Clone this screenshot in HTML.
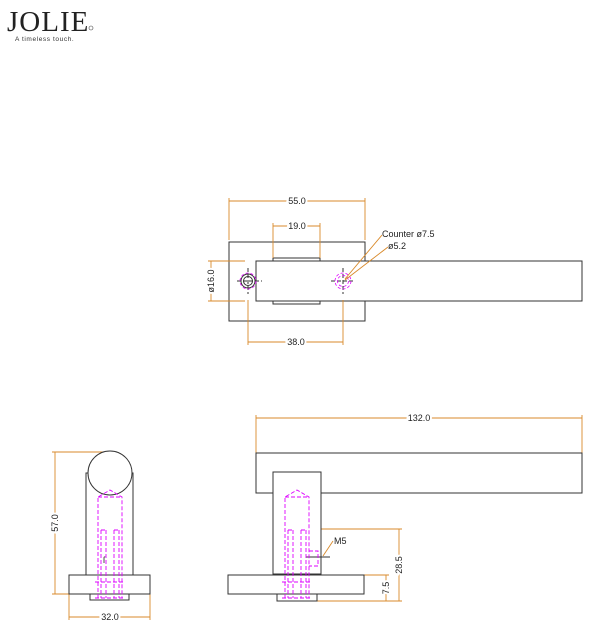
<!DOCTYPE html>
<html><head><meta charset="utf-8"><style>
html,body{margin:0;padding:0;background:#fff;}
svg{display:block;}
text{font-family:"Liberation Sans",sans-serif;}
</style></head><body>
<svg width="600" height="632" viewBox="0 0 600 632" xmlns="http://www.w3.org/2000/svg">
<text x="7" y="31" font-family="Liberation Serif" font-size="29" fill="#222" style="font-family:'Liberation Serif',serif" letter-spacing="1">JOLIE</text>
<circle cx="91" cy="28" r="2" fill="none" stroke="#444" stroke-width="0.6"/>
<text x="15" y="41" font-size="6.5" fill="#333" letter-spacing="0.6">A timeless touch.</text>

<g stroke="#333" stroke-width="1" fill="none">
<rect x="229" y="242" width="136" height="79"/>
<rect x="273" y="258" width="47" height="3"/>
<rect x="273" y="301" width="47" height="3"/>
<rect x="256" y="261" width="326" height="40" fill="#fff"/>
<circle cx="248" cy="281" r="7"/><circle cx="248" cy="281" r="4.5"/>
<line x1="237" y1="281" x2="262" y2="281" stroke-dasharray="4,2"/>
<line x1="248" y1="268" x2="248" y2="294" stroke-dasharray="4,2"/>
<line x1="331" y1="281" x2="355" y2="281" stroke-dasharray="4,2"/>
<line x1="343" y1="268" x2="343" y2="294" stroke-dasharray="4,2"/>
</g>
<g stroke="#d0f" stroke-width="0.8" fill="none" stroke-dasharray="3,2">
<circle cx="248" cy="281" r="8"/>
<circle cx="343" cy="281" r="8"/><circle cx="343" cy="281" r="5.5"/>
</g>
<g stroke="#d98a2b" stroke-width="0.9" fill="none">
<path d="M229 201H365M229 198V240M365 198V240"/>
<path d="M273 226H320M273 223V258M320 223V258"/>
<path d="M248 342H343M248 300V345M343 300V345"/>
<path d="M211 261V301M208 261H245M208 301H245"/>
<path d="M345 279L382 235M345 280L388 247"/>
<path d="M55 452V594M52 452H110M52 594H69"/>
<path d="M69 617H150M69 594V620M150 594V620"/>
<path d="M256 418H582M256 415V453M582 415V453"/>
<path d="M320 529H402M399 529V601M317 601H402"/>
<path d="M364 575H389M386 575V601"/>
<path d="M323 556L333 541"/>
</g>
<g font-size="9" fill="#222">
<text x="297" y="204" text-anchor="middle" fill="#fff" stroke="#fff" stroke-width="4">55.0</text>
<text x="297" y="204" text-anchor="middle">55.0</text>
<text x="297" y="229" text-anchor="middle" fill="#fff" stroke="#fff" stroke-width="4">19.0</text>
<text x="297" y="229" text-anchor="middle">19.0</text>
<text x="296" y="345" text-anchor="middle" fill="#fff" stroke="#fff" stroke-width="4">38.0</text>
<text x="296" y="345" text-anchor="middle">38.0</text>
<text x="382" y="237">Counter ø7.5</text>
<text x="388" y="249">ø5.2</text>
<text transform="translate(214,281) rotate(-90)" text-anchor="middle" fill="#fff" stroke="#fff" stroke-width="4">ø16.0</text>
<text transform="translate(214,281) rotate(-90)" text-anchor="middle">ø16.0</text>
<text x="419" y="421" text-anchor="middle" fill="#fff" stroke="#fff" stroke-width="4">132.0</text>
<text x="419" y="421" text-anchor="middle">132.0</text>
<text transform="translate(58,523) rotate(-90)" text-anchor="middle" fill="#fff" stroke="#fff" stroke-width="4">57.0</text>
<text transform="translate(58,523) rotate(-90)" text-anchor="middle">57.0</text>
<text x="110" y="620" text-anchor="middle" fill="#fff" stroke="#fff" stroke-width="4">32.0</text>
<text x="110" y="620" text-anchor="middle">32.0</text>
<text transform="translate(402,565) rotate(-90)" text-anchor="middle" fill="#fff" stroke="#fff" stroke-width="4">28.5</text>
<text transform="translate(402,565) rotate(-90)" text-anchor="middle">28.5</text>
<text transform="translate(389,588) rotate(-90)" text-anchor="middle" fill="#fff" stroke="#fff" stroke-width="4">7.5</text>
<text transform="translate(389,588) rotate(-90)" text-anchor="middle">7.5</text>
<text x="334" y="544">M5</text>
</g>

<g stroke="#333" stroke-width="1" fill="none">
<rect x="86" y="473" width="47" height="102"/>
<circle cx="110" cy="473" r="22" fill="#fff"/>
<rect x="69" y="575" width="81" height="19"/>
<rect x="90" y="594" width="39" height="6"/>
<rect x="256" y="453" width="326" height="40"/>
<rect x="273" y="472" width="48" height="102" fill="#fff"/>
<rect x="228" y="575" width="136" height="19"/>
<rect x="277" y="594" width="40" height="7"/>
<line x1="306" y1="557" x2="330" y2="557"/>
</g>
<g stroke="#d0f" stroke-width="0.9" fill="none" stroke-dasharray="4,2">
<path d="M98 598V497L110 490L122 497V598M98 497H122"/>
<path d="M101 530V598M106 530V598M114 530V598M119 530V598M101 530H106M114 530H119"/>
<path d="M95 582H125M95 598H125"/>
<path d="M285 598V497L297 490L309 497V598M285 497H309"/>
<path d="M288 530V598M293 530V598M301 530V598M306 530V598M288 530H293M301 530H306"/>
<path d="M282 582H312M282 598H312M309 551H318V566H309"/>
</g>
<text x="103" y="563" font-size="9" fill="#222">ſ</text>
</svg>
</body></html>
